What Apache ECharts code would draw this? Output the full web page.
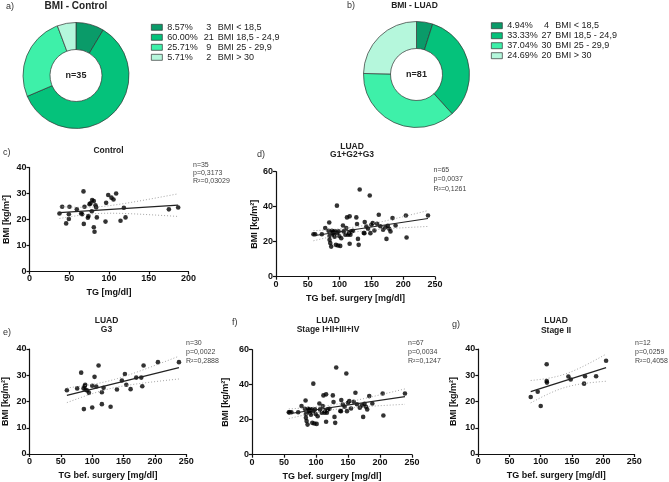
<!DOCTYPE html>
<html><head><meta charset="utf-8">
<script src="https://cdn.jsdelivr.net/npm/echarts@6/dist/echarts.min.js"></script>
<style>html,body{margin:0;padding:0;background:#fff}#c{width:669px;height:482px}</style>
</head><body><div id="c"></div>
<script>
// ---------- data ----------
const bmiCategories = ['BMI < 18,5', 'BMI 18,5 - 24,9', 'BMI 25 - 29,9', 'BMI > 30'];
const controlCounts = [3, 21, 9, 2];
const luadCounts = [4, 27, 30, 20];
const pieColors = ['#0a9b69', '#05c27b', '#3ef0a9', '#b5f7dc'];

// c) Control
const cTG  = [37.7, 41.1, 46.1, 49.5, 49.5, 50.3, 59.5, 65, 66.2, 67.9, 68.3, 69.2, 73.4, 74.2, 75.5, 76.7, 78.8, 80.9, 78.4, 80.9, 81.8, 83, 83.9, 84.7, 95.6, 96.4, 99, 103.1, 105.7, 109, 114.5, 118.7, 120.8, 175.3, 187];
const cBMI = [22.3, 24.9, 18.5, 22, 20.2, 24.9, 23.9, 22.3, 22, 30.8, 18.3, 24.9, 20.7, 21.3, 25.9, 26.2, 27.5, 27.1, 23.2, 17, 15.3, 25.5, 24.6, 20.8, 19.2, 26.4, 29.4, 28.4, 27.7, 30, 19.5, 24.5, 20.8, 23.9, 24.6];

// d) LUAD G1+G2+G3
const dTG  = [58.9, 61.6, 72.1, 77.4, 83.7, 82.6, 84.2, 84.2, 85.3, 86.8, 87.9, 89, 90.5, 92.1, 93.2, 94.2, 95.8, 97.4, 98.4, 99.5, 101, 102.6, 105.3, 106.3, 110.5, 111.6, 113.2, 114.7, 115.8, 115.8, 117, 118.4, 126.3, 127.4, 128.9, 130, 131.6, 139.5, 139, 142, 144.7, 147.4, 148.4, 150, 152, 154.7, 158.9, 161.6, 168.4, 172, 173.7, 175.8, 180, 183.2, 188, 204.2, 205.3, 239, 90, 96, 109, 121, 138, 164, 178];
const dBMI = [24.3, 24.3, 24.3, 27.8, 31, 26.2, 23.3, 21.1, 19.2, 17.2, 26.2, 24.9, 24, 22.8, 25.9, 18.2, 40.6, 17.8, 25.9, 23.3, 17.6, 22, 29.3, 25.9, 27.8, 33.9, 24, 24.9, 34.5, 18.8, 24, 25.9, 33.9, 30.1, 21.6, 18.2, 49.8, 31.2, 24.9, 28.7, 27.4, 46.4, 24.9, 29.7, 30.6, 26.4, 30.3, 35.4, 26.8, 28.2, 21.6, 29.1, 25.9, 33.5, 29.3, 35, 22.4, 35, 26, 25, 24, 26.2, 25, 28.8, 27.4];

// e) LUAD G3
const eTG  = [59.6, 76, 82.4, 86.2, 86.7, 88.8, 87.8, 89.4, 92, 94.7, 100, 100, 103.7, 106.4, 110.1, 115.4, 115.4, 118.1, 129.3, 139.4, 147.3, 152.1, 154.3, 161.2, 170.2, 178.2, 179.8, 181.9, 204.8, 238.3];
const eBMI = [24.3, 25, 31, 25, 17.1, 26.4, 25.8, 24.5, 24.2, 23.3, 26, 17.7, 29.4, 25.7, 33.7, 23.5, 19, 25.2, 18, 24.6, 28, 30.5, 26.4, 24.7, 29.1, 29.1, 25.8, 33.7, 35, 35];

// f) LUAD Stage I+II+III+IV (the d cohort plus two patients)
const fExtraTG  = [57.5, 88.5];
const fExtraBMI = [24.2, 25.5];
const fTG  = dTG.concat(fExtraTG);
const fBMI = dBMI.concat(fExtraBMI);

// g) LUAD Stage II
const gTG  = [84, 95.2, 100, 109.6, 109.6, 110, 144.4, 148.1, 169.5, 171, 188.8, 204.8];
const gBMI = [21.7, 23.7, 18.3, 34.2, 27.8, 27.2, 29.5, 28.4, 26.8, 29.6, 29.6, 35.5];

const statsText = [
  ['n=35', 'p=0,3173', 'R²=0,03029'],
  ['n=65', 'p=0,0037', 'R²=0,1261'],
  ['n=30', 'p=0,0022', 'R²=0,2888'],
  ['n=67', 'p=0,0034', 'R²=0,1247'],
  ['n=12', 'p=0,0259', 'R²=0,4058']
];

// ---------- helpers ----------
const FF = '"Liberation Sans", Arial, sans-serif';
function fitLine(xs, ys, steps) {
  const n = xs.length;
  const mx = xs.reduce((a, b) => a + b, 0) / n, my = ys.reduce((a, b) => a + b, 0) / n;
  let sxx = 0, sxy = 0;
  for (let i = 0; i < n; i++) { sxx += (xs[i] - mx) ** 2; sxy += (xs[i] - mx) * (ys[i] - my); }
  const b = sxy / sxx, a = my - b * mx;
  let sse = 0;
  for (let i = 0; i < n; i++) sse += (ys[i] - a - b * xs[i]) ** 2;
  const s = Math.sqrt(sse / (n - 2));
  const df = n - 2, t = 1.96 + 2.5 / df + 3 / (df * df);
  const x0 = Math.min(...xs), x1 = Math.max(...xs);
  const up = [], lo = [];
  for (let k = 0; k <= steps; k++) {
    const x = x0 + (x1 - x0) * k / steps, y = a + b * x;
    const h = t * s * Math.sqrt(1 / n + (x - mx) ** 2 / sxx);
    up.push([x, y + h]); lo.push([x, y - h]);
  }
  return { fit: [[x0, a + b * x0], [x1, a + b * x1]], up, lo };
}

const panels = [
  { xs: cTG, ys: cBMI, grid: { left: 29.5, top: 167.5, width: 159, height: 104 }, xMax: 200, yMax: 40, yInt: 10, xName: 'TG [mg/dl]', yGap: 18 },
  { xs: dTG, ys: dBMI, grid: { left: 276, top: 171.7, width: 159, height: 105 }, xMax: 250, yMax: 60, yInt: 20, xName: 'TG bef. surgery [mg/dl]', yGap: 16 },
  { xs: eTG, ys: eBMI, grid: { left: 29.3, top: 349, width: 157, height: 105 }, xMax: 250, yMax: 40, yInt: 10, xName: 'TG bef. surgery [mg/dl]', yGap: 19.5 },
  { xs: fTG, ys: fBMI, grid: { left: 252, top: 349.7, width: 160, height: 105 }, xMax: 250, yMax: 60, yInt: 20, xName: 'TG bef. surgery [mg/dl]', yGap: 22 },
  { xs: gTG, ys: gBMI, grid: { left: 478.3, top: 349, width: 156, height: 105 }, xMax: 250, yMax: 40, yInt: 10, xName: 'TG bef. surgery [mg/dl]', yGap: 20 }
];

const axisLine = { show: true, onZero: false, lineStyle: { color: '#111', width: 1.2 } };
const axisTick = { show: true, length: 3, lineStyle: { color: '#111', width: 1.2 } };
const axisLabel = { color: '#111', fontSize: 9, fontWeight: 'bold', fontFamily: FF, margin: 3 };
const nameStyle = { color: '#111', fontSize: 9, fontWeight: 'bold', fontFamily: FF };

const grids = [], xAxes = [], yAxes = [], series = [];
panels.forEach((p, i) => {
  grids.push(Object.assign({ containLabel: false }, p.grid));
  xAxes.push({ type: 'value', gridIndex: i, min: 0, max: p.xMax, interval: 50, splitLine: { show: false },
    axisLine, axisTick, axisLabel, name: p.xName, nameLocation: 'middle', nameGap: 17, nameTextStyle: nameStyle });
  yAxes.push({ type: 'value', gridIndex: i, min: 0, max: p.yMax, interval: p.yInt, splitLine: { show: false },
    axisLine, axisTick, axisLabel, name: 'BMI [kg/m²]', nameLocation: 'middle', nameRotate: 90, nameGap: p.yGap, nameTextStyle: nameStyle });
  const r = fitLine(p.xs, p.ys, 40);
  series.push({ type: 'line', xAxisIndex: i, yAxisIndex: i, data: r.up, showSymbol: false, symbol: 'none', silent: true,
    lineStyle: { color: '#9a9a9a', width: 0.9, type: [1, 2] } });
  series.push({ type: 'line', xAxisIndex: i, yAxisIndex: i, data: r.lo, showSymbol: false, symbol: 'none', silent: true,
    lineStyle: { color: '#9a9a9a', width: 0.9, type: [1, 2] } });
  series.push({ type: 'line', xAxisIndex: i, yAxisIndex: i, data: r.fit, showSymbol: false, symbol: 'none', silent: true,
    lineStyle: { color: '#222', width: 1.2 } });
  series.push({ type: 'scatter', xAxisIndex: i, yAxisIndex: i, data: p.xs.map((x, k) => [x, p.ys[k]]),
    symbol: 'circle', symbolSize: 4.6, itemStyle: { color: '#000' }, silent: true });
});

// pies
const ctrlTotal = controlCounts.reduce((a, b) => a + b, 0);
const luadTotal = luadCounts.reduce((a, b) => a + b, 0);
const ctrlNames = controlCounts.map((c, i) => c + ' ' + bmiCategories[i]);
const luadNames = luadCounts.map((c, i) => c + ' ' + bmiCategories[i]);
function pieSeries(counts, names, center) {
  return { type: 'pie', center, radius: [26, 53], startAngle: 90, clockwise: true, silent: true,
    label: { show: false }, labelLine: { show: false },
    itemStyle: { borderColor: '#333', borderWidth: 0.7 },
    data: counts.map((v, i) => ({ name: names[i], value: v, itemStyle: { color: pieColors[i] } })) };
}
series.push(pieSeries(controlCounts, ctrlNames, [76, 75.5]));
series.push(pieSeries(luadCounts, luadNames, [416.5, 74.5]));

function legendFor(names, counts, total, left, top, pw, cw) {
  return { orient: 'vertical', left, top, padding: 0, itemWidth: 11, itemHeight: 6, itemGap: 0, selectedMode: false,
    icon: 'rect', data: names, itemStyle: { borderColor: '#333', borderWidth: 0.7 },
    textStyle: { fontSize: 9, lineHeight: 10, color: '#222', fontFamily: FF,
      rich: { p: { width: pw, fontSize: 9, lineHeight: 10, color: '#222', fontFamily: FF },
              c: { width: cw, align: 'right', fontSize: 9, lineHeight: 10, color: '#222', fontFamily: FF },
              t: { fontSize: 9, lineHeight: 10, color: '#222', fontFamily: FF } } },
    formatter: name => {
      const i = names.indexOf(name);
      return '{p|' + (counts[i] / total * 100).toFixed(2) + '%}{c|' + counts[i] + '}{t| ' + bmiCategories[i] + '}';
    } };
}

// ---------- texts ----------
function txt(text, x, y, font, align, fill) {
  return { type: 'text', x, y, silent: true,
    style: { text, font, fill: fill || '#222', align: align || 'center', verticalAlign: 'middle' } };
}
const bold9 = 'bold 9px ' + FF, reg9 = '9px ' + FF, stat = '7px ' + FF;
const graphics = [
  txt('a)', 6, 7, reg9, 'left', '#333'),
  txt('BMI - Control', 76, 6.5, 'bold 10px ' + FF),
  txt('b)', 347, 6, reg9, 'left', '#333'),
  txt('BMI - LUAD', 414.5, 6, 'bold 8.5px ' + FF),
  txt('n=' + ctrlTotal, 76, 75.5, bold9),
  txt('n=' + luadTotal, 416.5, 74.5, bold9),
  txt('c)', 3, 153, reg9, 'left', '#333'),
  txt('Control', 108.5, 151, 'bold 8.5px ' + FF),
  txt('d)', 257, 155, reg9, 'left', '#333'),
  txt('LUAD', 352, 146.5, 'bold 8.5px ' + FF),
  txt('G1+G2+G3', 352, 155, 'bold 8.5px ' + FF),
  txt('e)', 3, 333, reg9, 'left', '#333'),
  txt('LUAD', 106.5, 321, 'bold 8.5px ' + FF),
  txt('G3', 106.5, 330, 'bold 8.5px ' + FF),
  txt('f)', 232, 323, reg9, 'left', '#333'),
  txt('LUAD', 328, 320.5, 'bold 8.5px ' + FF),
  txt('Stage I+II+III+IV', 328, 330, 'bold 8.5px ' + FF),
  txt('g)', 452, 325, reg9, 'left', '#333'),
  txt('LUAD', 556, 321, 'bold 8.5px ' + FF),
  txt('Stage II', 556, 331, 'bold 8.5px ' + FF)
];
const statPos = [[193, 165.5, 8], [433.5, 170, 9.5], [186, 343, 9], [408, 343.3, 8.8], [635, 343.3, 8.8]];
statPos.forEach((sp, i) => {
  statsText[i].forEach((t, k) => graphics.push(txt(t, sp[0], sp[1] + k * sp[2], stat, 'left', '#444')));
});

const chart = echarts.init(document.getElementById('c'), null, { renderer: 'canvas' });
chart.setOption({
  animation: false,
  backgroundColor: '#fff',
  grid: grids, xAxis: xAxes, yAxis: yAxes,
  legend: [legendFor(ctrlNames, controlCounts, ctrlTotal, 151, 22.3, 35, 13),
           legendFor(luadNames, luadCounts, luadTotal, 491, 20.7, 33, 12.5)],
  series,
  graphic: graphics
});
</script></body></html>
